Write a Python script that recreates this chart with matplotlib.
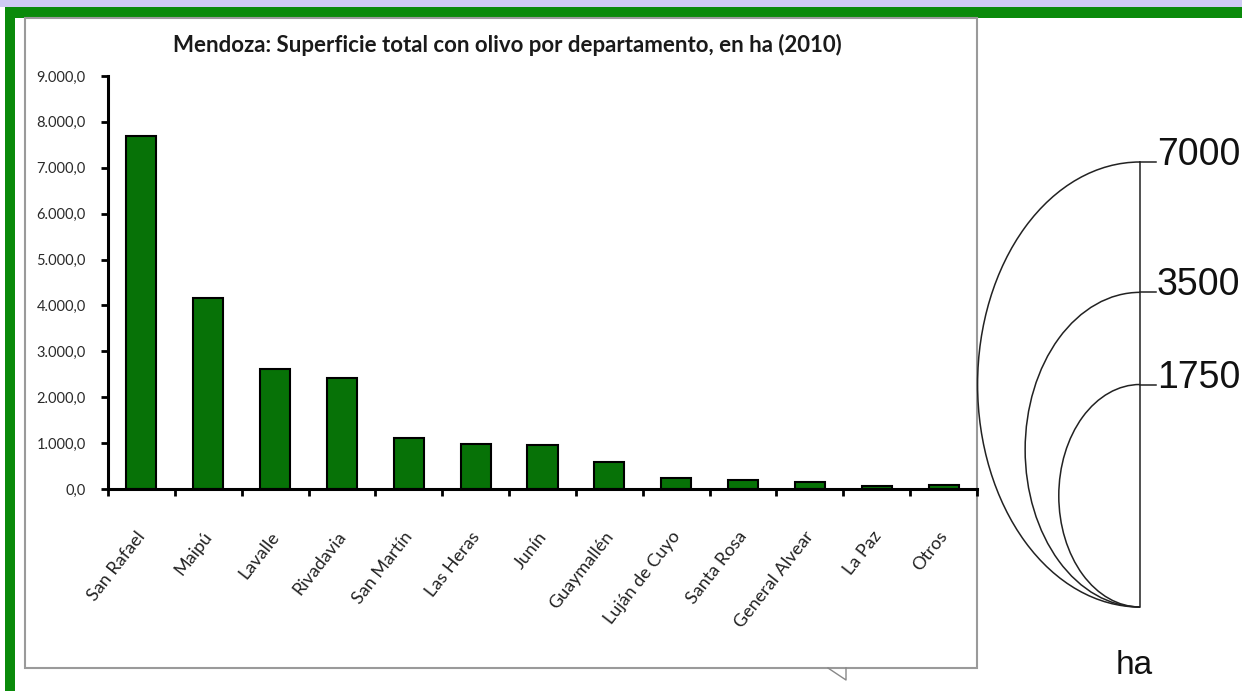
import numpy as np
import matplotlib
matplotlib.use("Agg")
import matplotlib.pyplot as plt
from matplotlib.patches import Rectangle, Arc
from matplotlib.ticker import FixedLocator, FuncFormatter
import matplotlib.transforms as mtransforms

# Superficie con olivo por departamento (ha, 2010)
departamentos = ["San Rafael", "Maipú", "Lavalle", "Rivadavia", "San Martín",
                 "Las Heras", "Junín", "Guaymallén", "Luján de Cuyo",
                 "Santa Rosa", "General Alvear", "La Paz", "Otros"]
superficie_ha = [7700, 4160, 2610, 2420, 1110, 980, 950, 590, 240, 190, 150, 60, 90]
y_ticks = [0, 1000, 2000, 3000, 4000, 5000, 6000, 7000, 8000, 9000]

# proportional symbol legend
legend_values = [7000, 3500, 1750]
legend_unit = "ha"

W, H = 1242, 691
fig = plt.figure(figsize=(W / 100, H / 100), dpi=100)

# background layer in pixel coordinates
bg = fig.add_axes([0, 0, 1, 1], zorder=0)
bg.set_xlim(0, W)
bg.set_ylim(H, 0)
bg.axis("off")

bg.add_patch(Rectangle((0, 0), W, 7, color="#cfcaf3", lw=0))
bg.add_patch(Rectangle((5, 7), W - 5, 11, color="#0a8a0a", lw=0))
bg.add_patch(Rectangle((5, 7), 10, H - 7, color="#0a8a0a", lw=0))
bg.add_patch(Rectangle((25, 18), 952, 650, facecolor="white", edgecolor="#9a9a9a", lw=1.5))
bg.plot([828, 846, 846], [668, 680, 668], color="#888888", lw=1)

# bar chart
ax = fig.add_axes([108 / W, 1 - 489 / H, (977 - 108) / W, (489 - 76) / H], zorder=1)
ax.set_facecolor("none")
x = np.arange(len(departamentos))
ax.bar(x, superficie_ha, width=0.45, color="#077207", edgecolor="black", linewidth=1.5)
ax.set_xlim(-0.5, len(departamentos) - 0.5)
ax.set_ylim(0, 9000)

for side in ["top", "right"]:
    ax.spines[side].set_visible(False)
for side in ["left", "bottom"]:
    ax.spines[side].set_linewidth(2.2)

ax.set_yticks(y_ticks)
ax.yaxis.set_major_formatter(FuncFormatter(
    lambda v, p: f"{v:,.1f}".replace(",", "X").replace(".", ",").replace("X", ".")))
ax.tick_params(axis="y", direction="out", length=5, width=2, pad=11,
               labelsize=10.5, labelcolor="#2a2a2a")
for lab in ax.get_yticklabels():
    lab.set_fontfamily("Lato")

ax.xaxis.set_major_locator(FixedLocator(np.arange(-0.5, len(departamentos), 1.0)))
ax.xaxis.set_major_formatter(FuncFormatter(lambda v, p: ""))
ax.tick_params(axis="x", which="major", direction="out", length=5, width=2)
ax.set_xticks(x, minor=True)
ax.set_xticklabels(departamentos, minor=True, rotation=52, ha="right",
                   va="center", rotation_mode="anchor", fontsize=13, family="Lato",
                   color="#222222")
ax.tick_params(axis="x", which="minor", length=0, pad=32)
shift = mtransforms.ScaledTranslation(1 / 100, 0, fig.dpi_scale_trans)
for lab in ax.get_xticklabels(minor=True):
    lab.set_transform(lab.get_transform() + shift)

fig.text(507 / W, 1 - 45 / H, "Mendoza: Superficie total con olivo por departamento, en ha (2010)",
         ha="center", va="center", fontsize=16, family="Lato", fontweight="bold",
         color="#1a1a1a")

# proportional circles, bottom aligned, drawn as left halves
cx, base = 1140, 607
r_max = (base - 162) / 2
x_ratio = 0.73
for v in legend_values:
    ry = r_max * np.sqrt(v / legend_values[0])
    rx = ry * x_ratio
    cy = base - ry
    bg.add_patch(Arc((cx, cy), 2 * rx, 2 * ry, theta1=90, theta2=270,
                     color="#222222", lw=1.1, zorder=3))
    top = base - 2 * ry
    bg.plot([cx, 1156], [top, top], color="#222222", lw=1.1)
    bg.text(1157, top + 3, f"{v}", ha="left", va="baseline", fontsize=27,
            family="Liberation Sans", color="#111111")
bg.plot([cx, cx], [162, base], color="#222222", lw=1.1)
bg.text(1134, 665, legend_unit, ha="center", va="center", fontsize=24,
        family="Liberation Sans", color="#111111")

fig.savefig("out.png", dpi=100)
